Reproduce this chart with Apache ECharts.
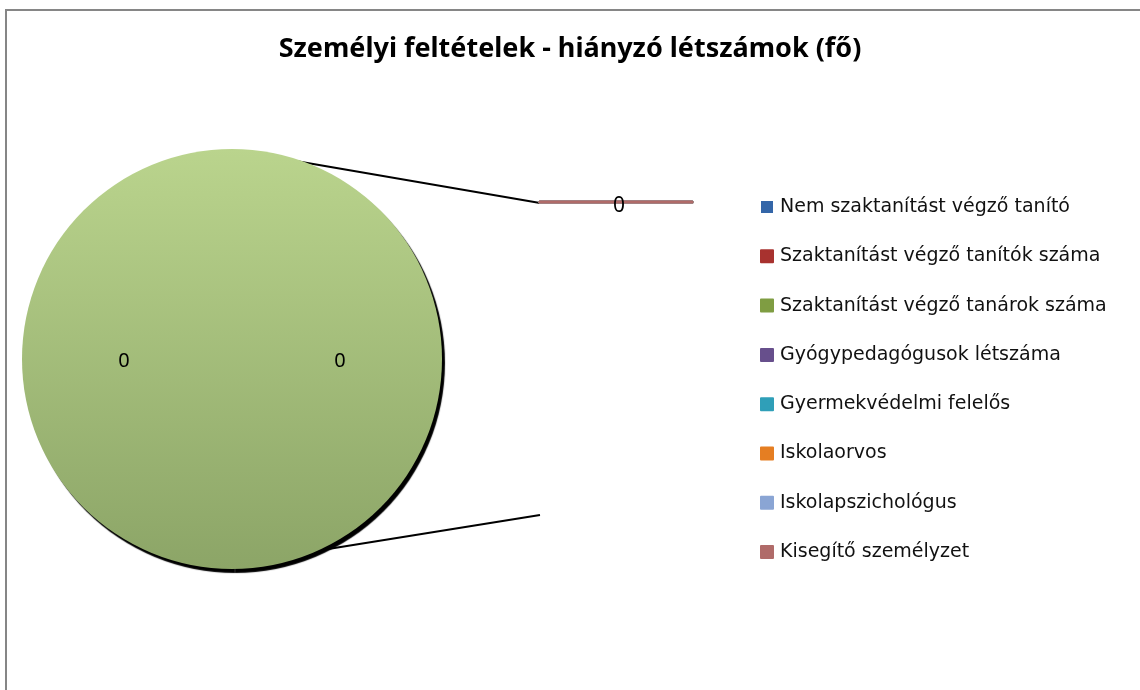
<!DOCTYPE html>
<html>
<head>
<meta charset="utf-8">
<script src="https://cdn.jsdelivr.net/npm/echarts@6/dist/echarts.min.js"></script>
<style>
  html, body { margin: 0; padding: 0; background: #fff; }
  #chart { width: 1140px; height: 690px; }
</style>
</head>
<body>
<div id="chart"></div>
<script>
// adatok
var titleText = 'Személyi feltételek - hiányzó létszámok (fő)'
var categories = [
  'Nem szaktanítást végző tanító',
  'Szaktanítást végző tanítók száma',
  'Szaktanítást végző tanárok száma',
  'Gyógypedagógusok létszáma',
  'Gyermekvédelmi felelős',
  'Iskolaorvos',
  'Iskolapszichológus',
  'Kisegítő személyzet'
]
var values = [0, 0, 0, 0, 0, 0, 0, 0]
var mainCount = 1 // ennyi kategória marad a fő tortában, a többi a másodikba kerül
var otherName = 'Egyéb'

var colors = ['#3466a8', '#a8322f', '#7f9d42', '#674f8c', '#2f9fb8', '#e57e22', '#8aa5d4', '#b06b69']

var grad = function (top, bottom) {
  return new echarts.graphic.LinearGradient(0, 0, 0, 1, [
    { offset: 0, color: top },
    { offset: 1, color: bottom }
  ])
}

var restSum = values.slice(mainCount).reduce(function (a, b) { return a + b }, 0)
var mainData = categories.slice(0, mainCount).map(function (c, i) {
  return { name: c, value: values[i] }
})
mainData.push({ name: otherName, value: restSum })

var secondData = categories.slice(mainCount).map(function (c, i) {
  var col = colors[i + mainCount]
  return {
    name: c,
    value: values[i + mainCount],
    itemStyle: { color: col, borderColor: col }
  }
})

var chart = echarts.init(document.getElementById('chart'))
chart.setOption({
  animation: false,
  backgroundColor: '#fff',
  title: {
    text: titleText,
    left: 'center',
    top: 31,
    textStyle: { fontFamily: 'Noto Sans', fontSize: 27, fontWeight: 'bold', color: '#000' }
  },
  legend: {
    orient: 'vertical',
    left: 755,
    top: 192,
    itemWidth: 12,
    itemHeight: 12,
    itemGap: 29.3,
    selectedMode: false,
    icon: 'rect',
    data: categories.map(function (c, i) {
      return { name: c, itemStyle: { color: colors[i] } }
    }),
    textStyle: { fontFamily: 'DejaVu Sans', fontSize: 19, lineHeight: 20, color: '#111', padding: [0, 0, 0, 2] }
  },
  graphic: [
    {
      type: 'rect',
      shape: { x: 6, y: 10, width: 1300, height: 900 },
      style: { fill: 'none', stroke: '#868686', lineWidth: 2 },
      silent: true
    },
    {
      type: 'line',
      shape: { x1: 290, y1: 160, x2: 540, y2: 203 },
      style: { stroke: '#000', lineWidth: 2 },
      silent: true
    },
    {
      type: 'line',
      shape: { x1: 322, y1: 550, x2: 540, y2: 515 },
      style: { stroke: '#000', lineWidth: 2 },
      silent: true
    }
  ],
  series: [
    {
      // második (nulla összegű) torta: egy vonallá zsugorodik
      type: 'pie',
      center: [540, 202],
      radius: [0, 152],
      startAngle: 0,
      stillShowZeroSum: false,
      silent: true,
      z: 3,
      label: {
        show: true,
        position: 'inside',
        formatter: '{c}',
        fontFamily: 'Noto Sans',
        fontSize: 21,
        offset: [0, 4],
        color: '#000'
      },
      labelLine: { show: false },
      itemStyle: { borderWidth: 3 },
      data: secondData
    },
    {
      type: 'pie',
      center: [232, 359],
      radius: [0, 210],
      startAngle: 90,
      clockwise: false,
      silent: true,
      z: 2,
      label: {
        show: true,
        position: 'inside',
        formatter: '{c}',
        fontFamily: 'Noto Sans',
        fontSize: 20,
        offset: [0, 2],
        color: '#000'
      },
      labelLine: { show: false },
      itemStyle: {
        color: grad('#bad48d', '#8ca567'),
        borderWidth: 0,
        shadowColor: '#000',
        shadowBlur: 1,
        shadowOffsetX: 3,
        shadowOffsetY: 4
      },
      data: mainData
    }
  ]
})
</script>
</body>
</html>
